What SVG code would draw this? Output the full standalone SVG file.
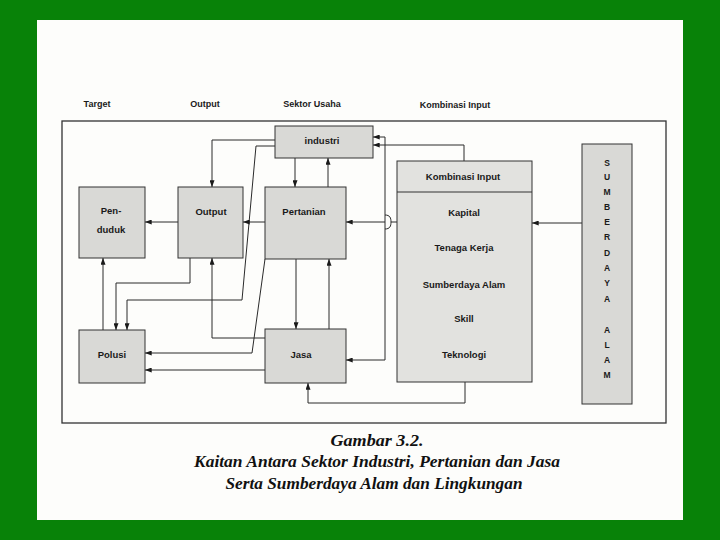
<svg xmlns="http://www.w3.org/2000/svg" width="720" height="540" viewBox="0 0 720 540">
<style>
.hdr{font-family:"Liberation Sans",Arial,sans-serif;font-weight:bold;font-size:9px;fill:#1a1a1a;text-anchor:middle}
.lbl{font-family:"Liberation Sans",Arial,sans-serif;font-weight:bold;font-size:9.5px;fill:#1a1a1a;text-anchor:middle}
.sda{font-family:"Liberation Sans",Arial,sans-serif;font-weight:bold;font-size:8.5px;fill:#1a1a1a;text-anchor:middle}
.cap{font-family:"Liberation Serif","Times New Roman",serif;font-weight:bold;font-style:italic;fill:#111;text-anchor:middle}
.box{fill:#d9d9d6;stroke:#333;stroke-width:1}
.big{fill:#e2e2df;stroke:#333;stroke-width:1}
.ln{fill:none;stroke:#2a2a2a;stroke-width:1}
.ar{fill:none;stroke:#2a2a2a;stroke-width:1;marker-end:url(#ah)}
</style>
<defs>
<marker id="ah" viewBox="0 0 8 6" refX="8" refY="3" markerWidth="7" markerHeight="5" orient="auto" markerUnits="userSpaceOnUse">
<path d="M0,0 L8,3 L0,6 z" fill="#1a1a1a"/>
</marker>
</defs>
<rect x="0" y="0" width="720" height="540" fill="#088208"/>
<rect x="37" y="20" width="646" height="500" fill="#fdfdfb"/>
<rect x="62" y="121" width="604" height="302" fill="none" stroke="#333" stroke-width="1.3"/>
<g id="headers">
<text class="hdr" x="97" y="107">Target</text>
<text class="hdr" x="205" y="107">Output</text>
<text class="hdr" x="312" y="107">Sektor Usaha</text>
<text class="hdr" x="455" y="108">Kombinasi Input</text>
</g>
<g id="connectors">
<path class="ar" d="M464,161 V145 H373"/>
<path class="ar" d="M385,222 V137 H373"/>
<path class="ar" d="M385,222 V360 H346"/>
<path class="ar" d="M385,222 H346"/>
<path class="ln" d="M397,222 H391"/>
<path class="ln" d="M385,215 C390,215 391,218 391,222 C391,226 390,229 385,229"/>
<path class="ar" d="M276,140 H212 V187"/>
<path class="ar" d="M276,146 H256 L242,300 H127 V330"/>
<path class="ar" d="M295,158 V187"/>
<path class="ar" d="M328,187 V158"/>
<path class="ar" d="M265,222 H243"/>
<path class="ar" d="M178,222 H145"/>
<path class="ar" d="M103,330 V258"/>
<path class="ar" d="M190,258 V283 H116 V330"/>
<path class="ar" d="M265,338 H212 V258"/>
<path class="ar" d="M296,259 V329"/>
<path class="ar" d="M329,329 V259"/>
<path class="ar" d="M265,259 L252,353 H145"/>
<path class="ar" d="M265,370 H145"/>
<path class="ar" d="M465,382 V403 H308 V383"/>
<path class="ar" d="M582,223 H532"/>
</g>
<g id="industri">
<rect class="box" x="275" y="126" width="98" height="32"/>
<text class="lbl" x="322" y="144">industri</text>
</g>
<g id="penduduk">
<rect class="box" x="79" y="187" width="66" height="71"/>
<text class="lbl" x="111" y="214">Pen-</text>
<text class="lbl" x="111" y="233">duduk</text>
</g>
<g id="output">
<rect class="box" x="178" y="187" width="65" height="71"/>
<text class="lbl" x="211" y="215">Output</text>
</g>
<g id="pertanian">
<rect class="box" x="265" y="187" width="81" height="72"/>
<text class="lbl" x="304" y="215">Pertanian</text>
</g>
<g id="polusi">
<rect class="box" x="79" y="330" width="66" height="53"/>
<text class="lbl" x="112" y="358">Polusi</text>
</g>
<g id="jasa">
<rect class="box" x="265" y="329" width="81" height="54"/>
<text class="lbl" x="301" y="358">Jasa</text>
</g>
<g id="kombinasi">
<rect class="big" x="397" y="161" width="135" height="221"/>
<line x1="397" y1="192" x2="532" y2="192" stroke="#333" stroke-width="1"/>
<text class="lbl" x="463" y="180">Kombinasi Input</text>
<text class="lbl" x="464" y="216">Kapital</text>
<text class="lbl" x="464" y="251">Tenaga Kerja</text>
<text class="lbl" x="464" y="288">Sumberdaya Alam</text>
<text class="lbl" x="464" y="322">Skill</text>
<text class="lbl" x="464" y="358">Teknologi</text>
</g>
<g id="sumberdaya">
<rect class="box" x="582" y="144" width="50" height="260"/>
<text class="sda" x="607" y="166">S</text>
<text class="sda" x="607" y="180">U</text>
<text class="sda" x="607" y="195">M</text>
<text class="sda" x="607" y="210">B</text>
<text class="sda" x="607" y="225">E</text>
<text class="sda" x="607" y="240">R</text>
<text class="sda" x="607" y="256">D</text>
<text class="sda" x="607" y="271">A</text>
<text class="sda" x="607" y="286">Y</text>
<text class="sda" x="607" y="302">A</text>
<text class="sda" x="607" y="333">A</text>
<text class="sda" x="607" y="348">L</text>
<text class="sda" x="607" y="363">A</text>
<text class="sda" x="607" y="378">M</text>
</g>
<g id="caption">
<text class="cap" x="377" y="446" font-size="17" textLength="93" lengthAdjust="spacingAndGlyphs">Gambar 3.2.</text>
<text class="cap" x="377" y="467" font-size="16.5" textLength="366" lengthAdjust="spacingAndGlyphs">Kaitan Antara Sektor Industri, Pertanian dan Jasa</text>
<text class="cap" x="374" y="489" font-size="16.5" textLength="297" lengthAdjust="spacingAndGlyphs">Serta Sumberdaya Alam dan Lingkungan</text>
</g>
</svg>
